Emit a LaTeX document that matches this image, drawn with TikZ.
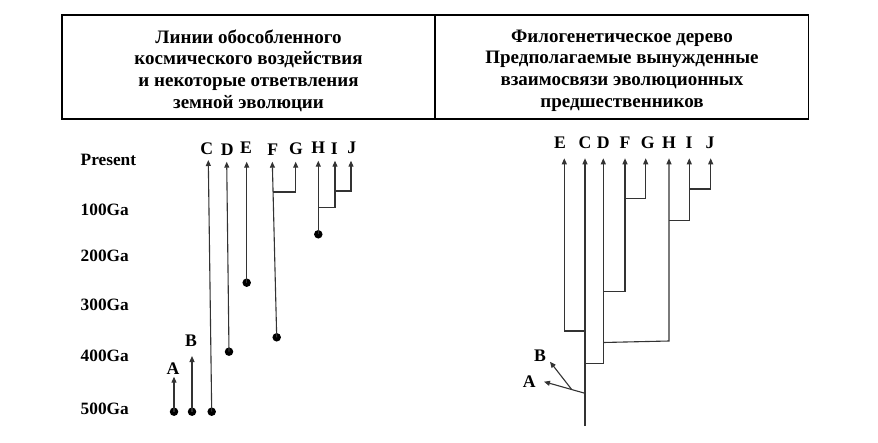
\documentclass[tikz,border=0pt]{standalone}
\usepackage{fontspec}
\setmainfont{Liberation Serif}
\usetikzlibrary{arrows.meta}
\tikzset{
  ln/.style={line width=1.1pt, draw=black!80},
  arr/.style={ln, -{Triangle[length=6pt,width=5pt]}},
  dot/.style={circle, fill=black, inner sep=0pt, minimum size=8.5pt},
  lbl/.style={font=\bfseries\fontsize{17.7}{17.7}\selectfont, inner sep=0pt, anchor=base},
  axl/.style={font=\bfseries\fontsize{17.3}{17.3}\selectfont, inner sep=0pt, anchor=west},
  cell/.style={draw, line width=1.4pt, minimum width=373pt, minimum height=104pt, inner sep=0pt},
  htext/.style={align=center, inner sep=0pt, font=\bfseries\fontsize{19}{21.7}\selectfont}
}
\begin{document}
\begin{tikzpicture}[x=1pt,y=-1pt]
\useasboundingbox (0,0) rectangle (878,442);
% header
\node[cell] (hl) at (248.5,67) {};
\node[cell] (hr) at (622,67) {};
\node[htext] (hlt) at (248.5,70.5) {Линии обособленного\\космического воздействия\\и некоторые ответвления\\земной эволюции};
\node[htext] (hrt) at (622,70.5) {Филогенетическое дерево\\Предполагаемые вынужденные\\взаимосвязи эволюционных\\предшественников};
% axis labels
\node[axl] (present) at (80.5,160) {Present};
\node[axl] (g100) at (80.5,210) {100Ga};
\node[axl] (g200) at (80.5,256) {200Ga};
\node[axl] (g300) at (80.5,305) {300Ga};
\node[axl] (g400) at (80.5,356) {400Ga};
\node[axl] (g500) at (80.5,409) {500Ga};
% left diagram
\node[dot] (dA) at (174,411.7) {};
\node[dot] (dB) at (192,411.7) {};
\node[dot] (dC) at (211.7,411.7) {};
\node[dot] (dD) at (229,351.7) {};
\node[dot] (dE) at (246.7,282.7) {};
\node[dot] (dF) at (276.7,337.3) {};
\node[dot] (dH) at (318.3,234.3) {};
\coordinate (tA) at (174,376.7);
\coordinate (tB) at (192,356);
\coordinate (tC) at (208.3,160);
\coordinate (tD) at (226.7,161.7);
\coordinate (tE) at (246.7,161.7);
\coordinate (tF) at (272.3,161.7);
\coordinate (tG) at (295.7,161.7);
\coordinate (tH) at (318.3,160.7);
\coordinate (tI) at (335,160.7);
\coordinate (tJ) at (351,160.7);
\coordinate (bFG) at (273.1,192);
\coordinate (bHI) at (318.3,207.7);
\coordinate (bIJ) at (335,191);
\node[lbl] (lA) at (173,374) {A};
\node[lbl] (lB) at (191,346.5) {B};
\node[lbl] (lC) at (206.7,154.5) {C};
\node[lbl] (lD) at (227.3,155) {D};
\node[lbl] (lE) at (246,153.5) {E};
\node[lbl] (lF) at (272.7,155) {F};
\node[lbl] (lG) at (296,154.5) {G};
\node[lbl] (lH) at (318.3,153.5) {H};
\node[lbl] (lI) at (334.3,154) {I};
\node[lbl] (lJ) at (351.7,153.5) {J};
\draw[arr] (dA.center) -- (tA);
\draw[arr] (dB.center) -- (tB);
\draw[arr] (dC.center) -- (tC);
\draw[arr] (dD.center) -- (tD);
\draw[arr] (dE.center) -- (tE);
\draw[arr] (dF.center) -- (tF);
\draw[arr] (bFG) -- (295.7,192) -- (tG);
\draw[arr] (dH.center) -- (tH);
\draw[arr] (bHI) -- (335,207.7) -- (tI);
\draw[arr] (bIJ) -- (351,191) -- (tJ);
% right tree
\coordinate (rE) at (564.3,158.3);
\coordinate (rC) at (585,158.3);
\coordinate (rD) at (603.3,158.3);
\coordinate (rF) at (625,158.3);
\coordinate (rG) at (645.7,158.3);
\coordinate (rH) at (669,158.3);
\coordinate (rI) at (689.3,158.3);
\coordinate (rJ) at (710.7,158.3);
\coordinate (rbot) at (585,426);
\node[lbl] (qE) at (560,148.3) {E};
\node[lbl] (qC) at (585,148.3) {C};
\node[lbl] (qD) at (603.3,148.3) {D};
\node[lbl] (qF) at (625,148.3) {F};
\node[lbl] (qG) at (647.7,148.3) {G};
\node[lbl] (qH) at (669,148.3) {H};
\node[lbl] (qI) at (689,148.3) {I};
\node[lbl] (qJ) at (710,148.3) {J};
\node[lbl] (qB) at (540,361) {B};
\node[lbl] (qA) at (529.3,387.5) {A};
\coordinate (jAB) at (585,393.3);
\coordinate (jB) at (571.7,389.5);
\coordinate (aA) at (544,381.7);
\coordinate (aB) at (550,361.7);
\draw[arr] (rbot) -- (rC);
\draw[arr] (585,331) -- (564.3,331) -- (rE);
\draw[arr] (585,363.3) -- (603.3,363.3) -- (rD);
\draw[arr] (603.3,291.7) -- (625,291.7) -- (rF);
\draw[arr] (625,198.3) -- (645.7,198.3) -- (rG);
\draw[arr] (603.3,342.5) -- (669,341) -- (rH);
\draw[arr] (669,220.7) -- (689.3,220.7) -- (rI);
\draw[arr] (689.3,189) -- (710.7,189) -- (rJ);
\draw[arr] (jAB) -- (aA);
\draw[arr] (jB) -- (aB);
\end{tikzpicture}
\end{document}
